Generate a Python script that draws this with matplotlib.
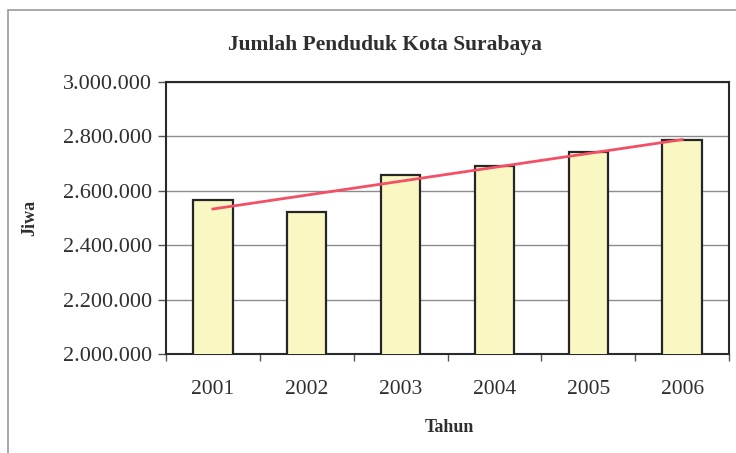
import numpy as np
import matplotlib
matplotlib.use("Agg")
import matplotlib.pyplot as plt
from matplotlib.patches import Rectangle
from matplotlib.ticker import FuncFormatter, FixedLocator

# Population of Surabaya per year (jiwa)
years = ["2001", "2002", "2003", "2004", "2005", "2006"]
population = [2566000, 2523000, 2657000, 2691000, 2742000, 2785000]
y_ticks = [2000000, 2200000, 2400000, 2600000, 2800000, 3000000]

plt.rcParams["font.family"] = ["Liberation Serif", "DejaVu Serif"]
text_color = "#2f2f2f"

fig = plt.figure(figsize=(7.36, 4.53), dpi=100)
fig.patch.set_facecolor("white")

# outer chart frame
fig.patches.append(Rectangle((8 / 736, -0.05), 1.2, (453 - 10) / 453 + 0.05,
                             transform=fig.transFigure, fill=False,
                             edgecolor="#9a9a9a", linewidth=1.2))

ax = fig.add_axes([166 / 736, 1 - 354 / 453, (729 - 166) / 736, (354 - 82) / 453])

x = np.arange(len(years))
ax.bar(x, population, width=0.42, color="#FAF8C2", edgecolor="#262626",
       linewidth=1.6, zorder=3)

# linear trend line
coef = np.polyfit(x, population, 1)
ax.plot(x, np.polyval(coef, x), color="#F25066", linewidth=2.0, zorder=4)

ax.set_xlim(-0.5, len(years) - 0.5)
ax.set_ylim(y_ticks[0], y_ticks[-1])
ax.yaxis.set_major_locator(FixedLocator(y_ticks))
ax.yaxis.set_major_formatter(FuncFormatter(lambda v, p: f"{int(v):,}".replace(",", ".")))
ax.grid(axis="y", color="#8c8c8c", linewidth=1.0, zorder=0)

ax.set_xticks(x)
ax.set_xticklabels(years)
ax.set_xticks(np.arange(-0.5, len(years)), minor=True)
ax.tick_params(axis="x", which="major", length=0, pad=19, labelsize=15.5, colors=text_color)
ax.tick_params(axis="x", which="minor", length=5, width=1, color="#555555", direction="out")
ax.tick_params(axis="y", length=6, width=1, color="#555555", direction="out",
               pad=4, labelsize=16, labelcolor=text_color)

for s in ax.spines.values():
    s.set_color("#2a2a2a")
    s.set_linewidth(1.5)

fig.text(385 / 736, 1 - 45 / 453, "Jumlah Penduduk Kota Surabaya", ha="center",
         va="center", fontsize=15.5, fontweight="bold", color=text_color)
fig.text(449 / 736, 1 - 427 / 453, "Tahun", ha="center", va="center",
         fontsize=13, fontweight="bold", color=text_color)
fig.text(30 / 736, 1 - 218 / 453, "Jiwa", ha="center", va="center", rotation=90,
         fontsize=13, fontweight="bold", color=text_color)

fig.savefig("out.png", dpi=100)
